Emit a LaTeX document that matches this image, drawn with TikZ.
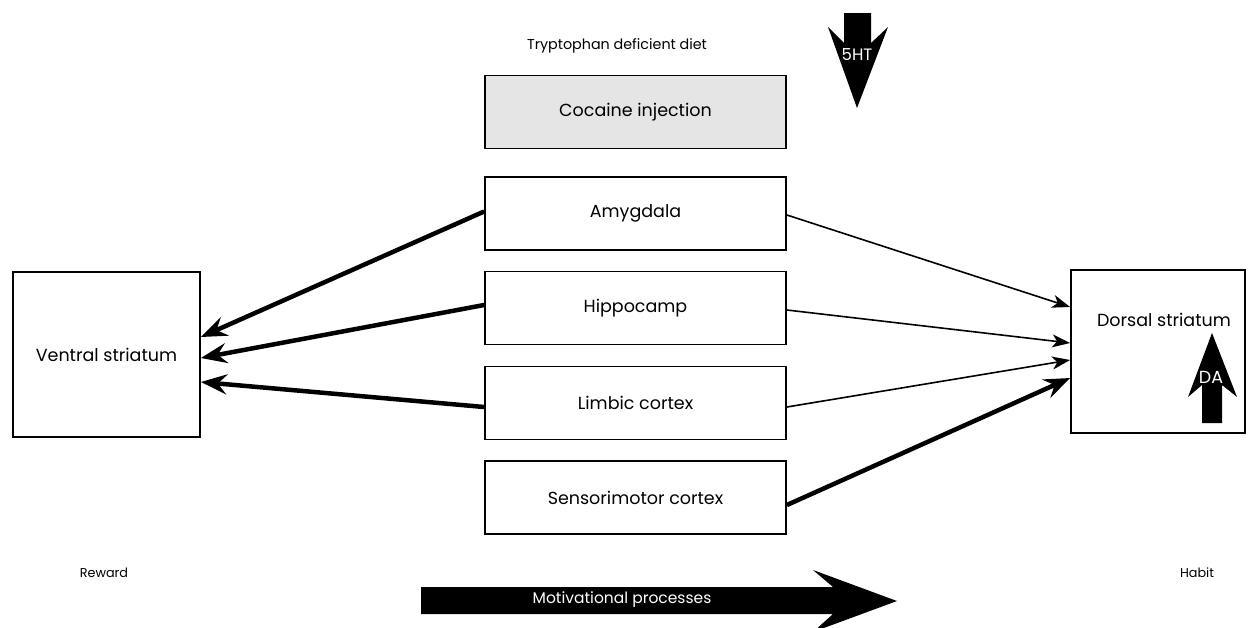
\documentclass[tikz,border=0pt]{standalone}
\usepackage{fontspec}
\setmainfont{Poppins}
\usetikzlibrary{arrows.meta,calc}
\begin{document}
\begin{tikzpicture}[x=1pt,y=-1pt,
  boxfont/.style={font=\fontsize{17.5}{20}\selectfont},
  plainfont/.style={font=\fontsize{14.3}{17}\selectfont},
  smallfont/.style={font=\fontsize{12.8}{15}\selectfont},
  box/.style={draw,line width=1.8pt,rectangle,inner sep=0pt,minimum width=301pt,minimum height=73pt,boxfont},
  bigbox/.style={draw,line width=1.8pt,rectangle,inner sep=0pt,boxfont},
  thin/.style={line width=1.6pt,-{Stealth[length=18pt,width=13pt,inset=5pt]}},
  thick/.style={line width=4.5pt,-{Stealth[length=26pt,width=20pt,inset=9pt]}},
  blk/.style={fill=black,draw=none},
  wlabel/.style={text=white}]
\useasboundingbox (0,0) rectangle (1249,627);
% boxes
\node[box,fill=black!10] (coc) at (635.5,112) {Cocaine injection};
\node[box] (amy) at (635.5,213.5) {Amygdala};
\node[box] (hip) at (635.5,308) {Hippocamp};
\node[box] (lim) at (635.5,403) {Limbic cortex};
\node[box] (sen) at (635.5,497.5) {Sensorimotor cortex};
\node[bigbox,minimum width=187pt,minimum height=165pt] (vs) at (106.5,354.5) {Ventral striatum};
\node[bigbox,minimum width=174pt,minimum height=163pt] (ds) at (1158,351.5) {};
\node[boxfont] (dst) at (1164,320) {Dorsal striatum};
% plain labels
\node[plainfont] (try) at (617,46) {Tryptophan deficient diet};
\node[smallfont] (rew) at (104,573) {Reward};
\node[smallfont] (hab) at (1197,573) {Habit};
% left arrows
\draw[thick] ([yshift=2pt]amy.west) -- ([yshift=17.5pt]vs.east);
\draw[thick] ([yshift=3pt]hip.west) -- ([yshift=-3.5pt]vs.east);
\draw[thick] ([yshift=-4pt]lim.west) -- ([yshift=-27.5pt]vs.east);
% right arrows
\draw[thin] ([yshift=-1.5pt]amy.east) -- ([yshift=44.5pt]ds.west);
\draw[thin] ([yshift=-2pt]hip.east) -- ([yshift=8.5pt]ds.west);
\draw[thin] ([yshift=-4pt]lim.east) -- ([yshift=-8.5pt]ds.west);
\draw[thick] ([yshift=-7.5pt]sen.east) -- ([yshift=-26.5pt]ds.west);
% 5HT arrow
\fill[blk] (844,13) -- (871,13) -- (871,43) -- (888,27) -- (857,108) -- (828,27) -- (844,43) -- cycle;
\node[wlabel,font=\fontsize{16.5}{19}\selectfont] (sht) at (857,55) {5HT};
% DA arrow
\fill[blk] (1212,333) -- (1237,397) -- (1222,385) -- (1222,423) -- (1202,423) -- (1202,385) -- (1188,397) -- cycle;
\node[wlabel,font=\fontsize{17.5}{20}\selectfont] (da) at (1211,377) {DA};
% motivational arrow
\fill[blk] (421,587) -- (833,587) -- (813,570) -- (897,601) -- (813,632) -- (833,614) -- (421,614) -- cycle;
\node[wlabel,font=\fontsize{15.5}{18}\selectfont] (mot) at (622,600) {Motivational processes};
\end{tikzpicture}
\end{document}
